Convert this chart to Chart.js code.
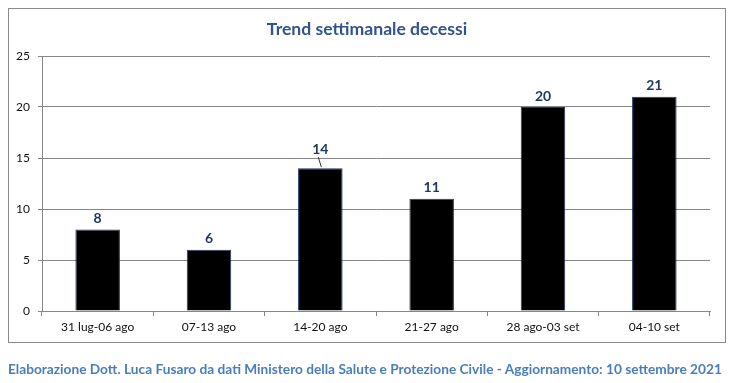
<!DOCTYPE html>
<html><head><meta charset="utf-8">
<script src="https://cdn.jsdelivr.net/npm/chart.js@4"></script>
<style>
html,body{margin:0;padding:0;background:#fff;width:734px;height:383px;overflow:hidden;}
#box{position:absolute;left:8px;top:8px;width:718px;height:335px;border:1px solid #8a8a8a;box-sizing:border-box;}
#wrap{position:absolute;left:0;top:0;width:734px;height:383px;}
#title{position:absolute;left:0;width:734px;top:18px;text-align:center;font-family:Lato,"Liberation Sans",sans-serif;font-weight:bold;font-size:17.6px;color:#31538F;}
#foot{position:absolute;left:8px;top:360px;font-family:Lato,"Liberation Sans",sans-serif;font-weight:bold;font-size:13.7px;color:#4A7EBB;white-space:nowrap;}
</style></head><body>
<div id="box"></div>
<div id="wrap"><canvas id="c" width="734" height="383"></canvas></div>
<div id="title"></div>
<div id="foot">Elaborazione Dott. Luca Fusaro da dati Ministero della Salute e Protezione Civile - Aggiornamento: 10 settembre 2021</div>
<script>
const categories = ["31 lug-06 ago","07-13 ago","14-20 ago","21-27 ago","28 ago-03 set","04-10 set"];
const deaths = [8,6,14,11,20,21];
const yTicks = [0,5,10,15,20,25];
const titleText = "Trend settimanale decessi";
document.getElementById('title').textContent = titleText;

const gridColor = "#868686";
const labelPlugin = {
  id:'vals',
  afterDatasetsDraw(chart){
    const ctx = chart.ctx;
    const meta = chart.getDatasetMeta(0);
    ctx.save();
    ctx.font = "bold 14px Lato, 'Liberation Sans', sans-serif";
    ctx.fillStyle = "#1F3864";
    ctx.textAlign = "center";
    ctx.textBaseline = "middle";
    meta.data.forEach((bar,i)=>{
      const lifted = (i===2);
      const y = bar.y - (lifted ? 19 : 11);
      ctx.fillText(String(deaths[i]), bar.x, y);
      if(lifted){
        ctx.strokeStyle="#333"; ctx.lineWidth=1;
        ctx.beginPath(); ctx.moveTo(bar.x-2, y+8); ctx.lineTo(bar.x+1, bar.y-1); ctx.stroke();
      }
    });
    ctx.restore();
  }
};
new Chart(document.getElementById('c'),{
  type:'bar',
  data:{labels:categories,datasets:[{data:deaths,backgroundColor:'#000',borderColor:'#1F3864',borderWidth:1,categoryPercentage:1,barPercentage:0.4}]},
  options:{
    responsive:false,animation:false,
    layout:{padding:{left:0,right:24,top:56,bottom:0}},
    plugins:{legend:{display:false},tooltip:{enabled:false},title:{display:false}},
    scales:{
      x:{grid:{offset:true,drawOnChartArea:false,drawTicks:true,tickLength:5,color:gridColor},
         border:{color:gridColor},
         ticks:{color:'#111',font:{family:"Lato, 'Liberation Sans', sans-serif",size:12},padding:4,maxRotation:0},
         afterFit(s){s.height=383-311;}},
      y:{min:0,max:25,afterBuildTicks(s){s.ticks=yTicks.map(v=>({value:v}));},
         grid:{color:gridColor,tickLength:4},
         border:{color:gridColor},
         ticks:{color:'#111',font:{family:"Lato, 'Liberation Sans', sans-serif",size:12},padding:8},
         afterFit(s){s.width=42;}}
    }
  },
  plugins:[labelPlugin]
});
</script></body></html>
